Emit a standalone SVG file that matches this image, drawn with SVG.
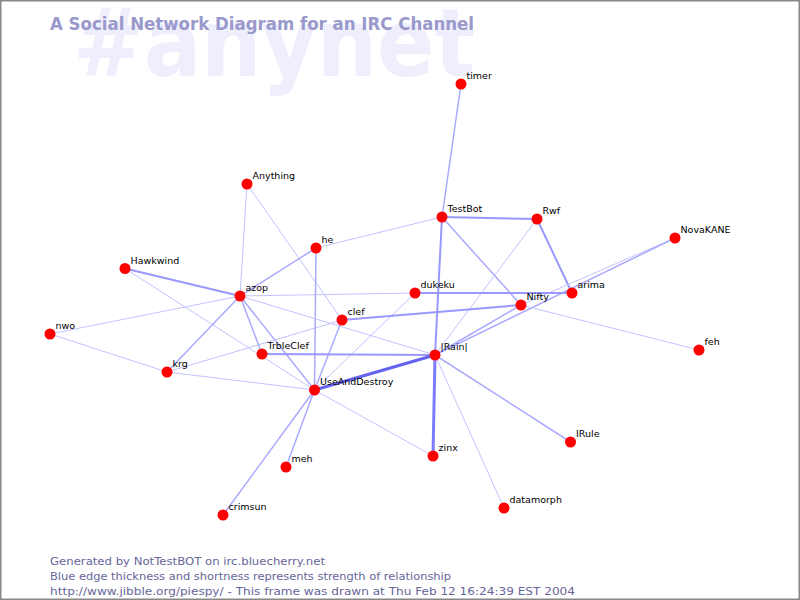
<svg xmlns="http://www.w3.org/2000/svg" width="800" height="600" viewBox="0 0 800 600">
<style>
.bg{fill:#ffffff}
.frame{fill:none;stroke:#888888;stroke-width:1.5}
.watermark{font-family:"DejaVu Sans",sans-serif;font-weight:bold;font-size:94px;fill:#eeeefc}
.title{font-family:"DejaVu Sans",sans-serif;font-weight:bold;font-size:17px;fill:#9999cc}
.foot{font-family:"DejaVu Sans",sans-serif;font-size:10.5px;fill:#666699}
.node circle{fill:#ff0000}
.node text{font-family:"DejaVu Sans",sans-serif;font-size:9.5px;fill:#000000}
#edges line{stroke-linecap:round}
.e1{stroke:#c2c2ff;stroke-width:1}
.e2{stroke:#aaaaff;stroke-width:1.5}
.e3{stroke:#9898ff;stroke-width:2}
.e4{stroke:#6464f0;stroke-width:3}
.e5{stroke:#7c7cff;stroke-width:3}
</style>
<rect class="bg" x="0" y="0" width="800" height="600"/>
<text class="watermark" x="73" y="76" textLength="402" lengthAdjust="spacingAndGlyphs">#anynet</text>
<text class="title" x="50" y="30" textLength="424" lengthAdjust="spacingAndGlyphs">A Social Network Diagram for an IRC Channel</text>
<g id="edges">
<line class="e2" x1="461" y1="84" x2="442" y2="217"/>
<line class="e1" x1="247" y1="184" x2="240" y2="296"/>
<line class="e1" x1="247" y1="184" x2="342" y2="320"/>
<line class="e3" x1="442" y1="217" x2="537" y2="219"/>
<line class="e3" x1="442" y1="217" x2="435" y2="355"/>
<line class="e2" x1="442" y1="217" x2="521" y2="305"/>
<line class="e1" x1="442" y1="217" x2="316" y2="248"/>
<line class="e3" x1="537" y1="219" x2="572" y2="293"/>
<line class="e1" x1="537" y1="219" x2="435" y2="355"/>
<line class="e1" x1="675" y1="238" x2="521" y2="305"/>
<line class="e2" x1="675" y1="238" x2="435" y2="355"/>
<line class="e2" x1="435" y1="355" x2="521" y2="305"/>
<line class="e3" x1="415" y1="293" x2="572" y2="293"/>
<line class="e1" x1="240" y1="296" x2="415" y2="293"/>
<line class="e1" x1="415" y1="293" x2="314.5" y2="390"/>
<line class="e3" x1="342" y1="320" x2="521" y2="305"/>
<line class="e1" x1="342" y1="320" x2="167" y2="372"/>
<line class="e2" x1="342" y1="320" x2="314.5" y2="390"/>
<line class="e2" x1="316" y1="248" x2="314.5" y2="390"/>
<line class="e2" x1="316" y1="248" x2="240" y2="296"/>
<line class="e3" x1="125" y1="268.5" x2="240" y2="296"/>
<line class="e1" x1="125" y1="268.5" x2="314.5" y2="390"/>
<line class="e1" x1="240" y1="296" x2="50" y2="334"/>
<line class="e2" x1="240" y1="296" x2="167" y2="372"/>
<line class="e2" x1="240" y1="296" x2="262" y2="354"/>
<line class="e2" x1="240" y1="296" x2="314.5" y2="390"/>
<line class="e1" x1="240" y1="296" x2="435" y2="355"/>
<line class="e1" x1="50" y1="334" x2="167" y2="372"/>
<line class="e1" x1="167" y1="372" x2="314.5" y2="390"/>
<line class="e3" x1="262" y1="354" x2="435" y2="355"/>
<line class="e4" x1="314.5" y1="390" x2="435" y2="355"/>
<line class="e1" x1="314.5" y1="390" x2="433" y2="456"/>
<line class="e2" x1="314.5" y1="390" x2="286" y2="467"/>
<line class="e2" x1="314.5" y1="390" x2="223" y2="515"/>
<line class="e5" x1="435" y1="355" x2="433" y2="456"/>
<line class="e1" x1="435" y1="355" x2="504" y2="508"/>
<line class="e2" x1="435" y1="355" x2="570.5" y2="442"/>
<line class="e1" x1="521" y1="305" x2="699" y2="350"/>
</g>
<g id="node-timer" class="node"><circle cx="461" cy="84" r="5.5"/><text x="466.5" y="79">timer</text></g>
<g id="node-Anything" class="node"><circle cx="247" cy="184" r="5.5"/><text x="252.5" y="179">Anything</text></g>
<g id="node-TestBot" class="node"><circle cx="442" cy="217" r="5.5"/><text x="447.5" y="212">TestBot</text></g>
<g id="node-Rwf" class="node"><circle cx="537" cy="219" r="5.5"/><text x="542.5" y="214">Rwf</text></g>
<g id="node-NovaKANE" class="node"><circle cx="675" cy="238" r="5.5"/><text x="680.5" y="233">NovaKANE</text></g>
<g id="node-he" class="node"><circle cx="316" cy="248" r="5.5"/><text x="321.5" y="243">he</text></g>
<g id="node-Hawkwind" class="node"><circle cx="125" cy="268.5" r="5.5"/><text x="130.5" y="263.5">Hawkwind</text></g>
<g id="node-azop" class="node"><circle cx="240" cy="296" r="5.5"/><text x="245.5" y="291">azop</text></g>
<g id="node-dukeku" class="node"><circle cx="415" cy="293" r="5.5"/><text x="420.5" y="288">dukeku</text></g>
<g id="node-arima" class="node"><circle cx="572" cy="293" r="5.5"/><text x="577.5" y="288">arima</text></g>
<g id="node-Nifty" class="node"><circle cx="521" cy="305" r="5.5"/><text x="526.5" y="300">Nifty</text></g>
<g id="node-clef" class="node"><circle cx="342" cy="320" r="5.5"/><text x="347.5" y="315">clef</text></g>
<g id="node-nwo" class="node"><circle cx="50" cy="334" r="5.5"/><text x="55.5" y="329">nwo</text></g>
<g id="node-feh" class="node"><circle cx="699" cy="350" r="5.5"/><text x="704.5" y="345">feh</text></g>
<g id="node-TrbleClef" class="node"><circle cx="262" cy="354" r="5.5"/><text x="267.5" y="349">TrbleClef</text></g>
<g id="node-Rain" class="node"><circle cx="435" cy="355" r="5.5"/><text x="440.5" y="350">|Rain|</text></g>
<g id="node-krg" class="node"><circle cx="167" cy="372" r="5.5"/><text x="172.5" y="367">krg</text></g>
<g id="node-UseAndDestroy" class="node"><circle cx="314.5" cy="390" r="5.5"/><text x="320" y="385">UseAndDestroy</text></g>
<g id="node-IRule" class="node"><circle cx="570.5" cy="442" r="5.5"/><text x="576" y="437">IRule</text></g>
<g id="node-zinx" class="node"><circle cx="433" cy="456" r="5.5"/><text x="438.5" y="451">zinx</text></g>
<g id="node-meh" class="node"><circle cx="286" cy="467" r="5.5"/><text x="291.5" y="462">meh</text></g>
<g id="node-datamorph" class="node"><circle cx="504" cy="508" r="5.5"/><text x="509.5" y="503">datamorph</text></g>
<g id="node-crimsun" class="node"><circle cx="223" cy="515" r="5.5"/><text x="228.5" y="510">crimsun</text></g>
<text class="foot" x="50" y="564.5" textLength="275" lengthAdjust="spacingAndGlyphs">Generated by NotTestBOT on irc.bluecherry.net</text>
<text class="foot" x="50" y="579.5" textLength="401" lengthAdjust="spacingAndGlyphs">Blue edge thickness and shortness represents strength of relationship</text>
<text class="foot" x="50" y="594.5" textLength="525" lengthAdjust="spacingAndGlyphs">http://www.jibble.org/piespy/ - This frame was drawn at Thu Feb 12 16:24:39 EST 2004</text>
<rect class="frame" x="0.75" y="0.75" width="798.5" height="598.5"/>
</svg>
